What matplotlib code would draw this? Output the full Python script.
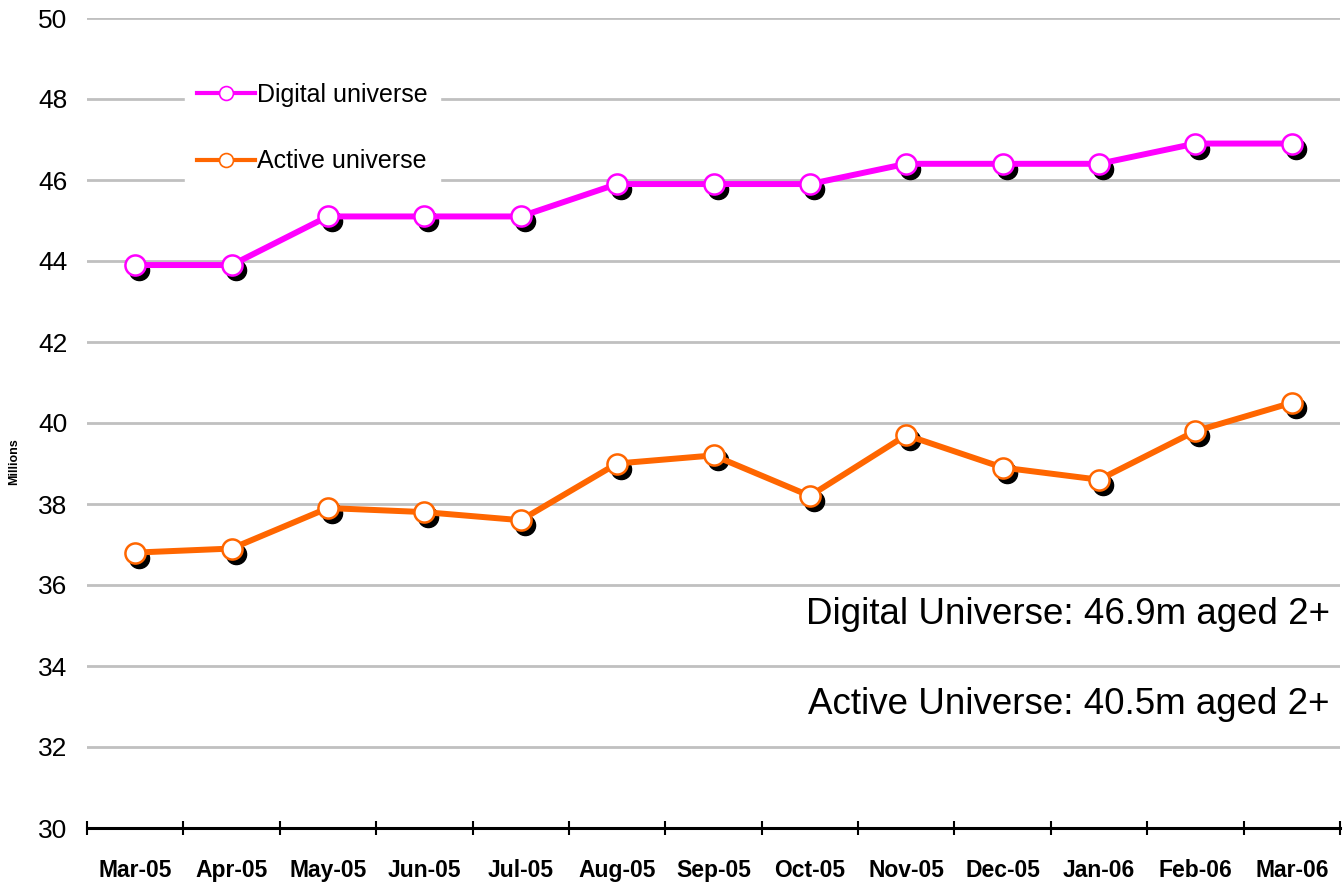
import matplotlib
matplotlib.use('Agg')
import matplotlib.pyplot as plt
import matplotlib.transforms as mtransforms
from matplotlib.lines import Line2D

plt.rcParams['font.family'] = ['Liberation Sans', 'DejaVu Sans']

months = ['Mar-05', 'Apr-05', 'May-05', 'Jun-05', 'Jul-05', 'Aug-05', 'Sep-05',
          'Oct-05', 'Nov-05', 'Dec-05', 'Jan-06', 'Feb-06', 'Mar-06']
digital = [43.9, 43.9, 45.1, 45.1, 45.1, 45.9, 45.9, 45.9, 46.4, 46.4, 46.4, 46.9, 46.9]
active = [36.8, 36.9, 37.9, 37.8, 37.6, 39.0, 39.2, 38.2, 39.7, 38.9, 38.6, 39.8, 40.5]

MAGENTA = '#ff00ff'
ORANGE = '#ff6600'


def main():
    fig = plt.figure(figsize=(13.44, 8.82), dpi=100)
    ax = fig.add_axes([87 / 1344, 54 / 882, 1253 / 1344, 810 / 882])

    x = list(range(len(months)))
    shadow = ax.transData + mtransforms.ScaledTranslation(4 / 100, -5 / 100, fig.dpi_scale_trans)

    for series, colour in [(digital, MAGENTA), (active, ORANGE)]:
        ax.plot(x, series, linestyle='none', marker='o', markersize=14.5,
                color='black', transform=shadow, zorder=3)
        ax.plot(x, series, color=colour, linewidth=4.3, marker='o', markersize=14.5,
                markerfacecolor='white', markeredgecolor=colour,
                markeredgewidth=1.8, zorder=4)

    ax.set_xlim(-0.5, len(months) - 0.5)
    ax.set_ylim(30, 50)
    ax.set_yticks(range(30, 51, 2))
    ax.set_xticks(x)
    ax.set_xticklabels(months, fontsize=16.5, fontweight='bold')
    ax.set_xticks([i - 0.5 for i in range(len(months) + 1)], minor=True)
    ax.tick_params(axis='x', which='major', length=0, pad=22)
    ax.tick_params(axis='x', which='minor', direction='inout', length=10, width=1.5)
    ax.tick_params(axis='y', length=0, labelsize=19, pad=14)

    ax.grid(axis='y', color='#c0c0c0', linewidth=2)
    ax.set_axisbelow(True)
    for side in ['top', 'right', 'left']:
        ax.spines[side].set_visible(False)
    ax.spines['bottom'].set_linewidth(2.2)
    ax.spines['bottom'].set_zorder(5)

    fig.text(14 / 1344, 1 - 462 / 882, 'Millions', fontsize=9, fontweight='bold',
             rotation=90, ha='center', va='center')

    handles = [
        Line2D([], [], color=MAGENTA, linewidth=3, marker='o', markersize=10,
               markerfacecolor='white', markeredgecolor=MAGENTA, markeredgewidth=1.2),
        Line2D([], [], color=ORANGE, linewidth=3, marker='o', markersize=10,
               markerfacecolor='white', markeredgecolor=ORANGE, markeredgewidth=1.2),
    ]
    leg = ax.legend(handles, ['Digital universe', 'Active universe'],
                    loc='upper left', bbox_to_anchor=(172 / 1344, 1 - 58 / 882),
                    bbox_transform=fig.transFigure, frameon=True, fancybox=False,
                    edgecolor='white', facecolor='white', framealpha=1,
                    fontsize=18, labelspacing=1.7, handlelength=2.3,
                    handletextpad=0.1, borderpad=0.5)
    leg.set_zorder(6)

    fig.text(1330 / 1344, 1 - 615 / 882, 'Digital Universe: 46.9m aged 2+',
             fontsize=26.5, ha='right', va='center')
    fig.text(1330 / 1344, 1 - 705 / 882, 'Active Universe: 40.5m aged 2+',
             fontsize=26.5, ha='right', va='center')

    plt.savefig('out.png', dpi=100)


if __name__ == '__main__':
    main()
